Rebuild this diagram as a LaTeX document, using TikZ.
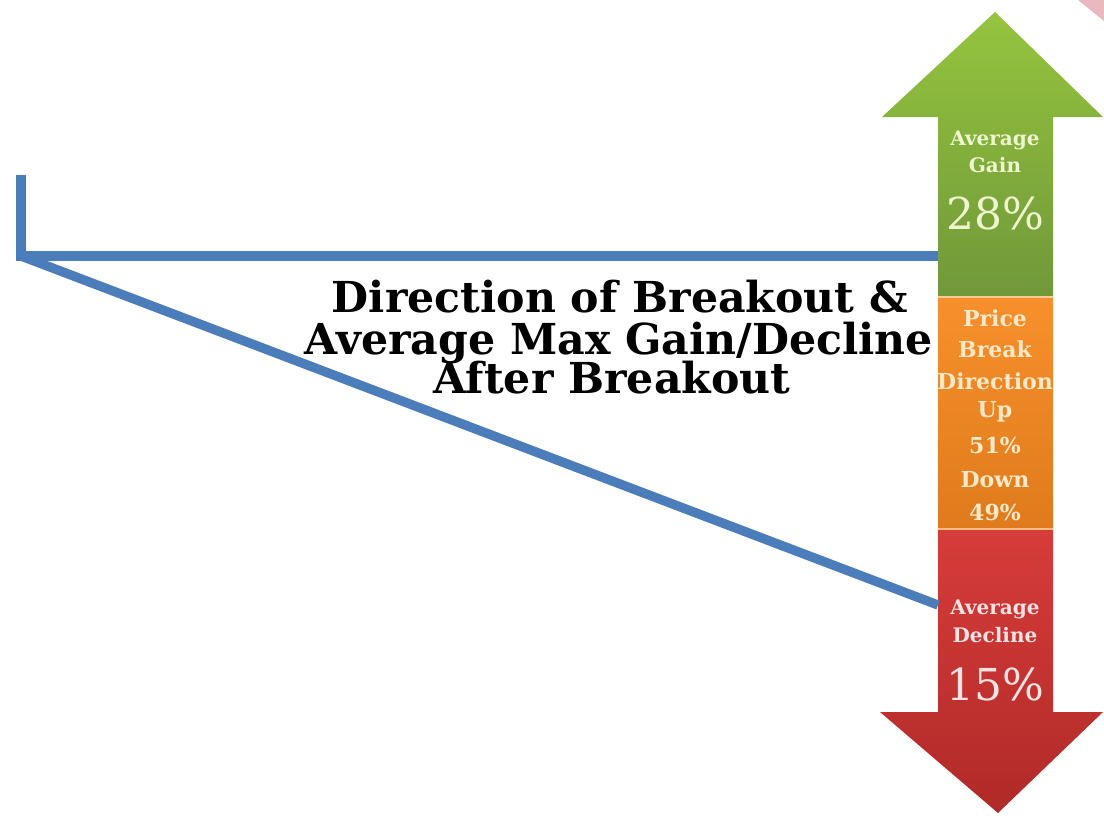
\documentclass[tikz,border=0pt]{standalone}
\usepackage{fontspec}
\setmainfont{DejaVu Serif}
\begin{document}
\begin{tikzpicture}[x=0.75pt,y=-0.75pt,
  blueline/.style={line width=7pt,draw=lineblue,line join=miter},
  lblg/.style={text=txtgreen,font=\bfseries\fontsize{15}{15}\selectfont,inner sep=0pt},
  lblo/.style={text=txtorange,font=\bfseries\fontsize{16.5}{16.5}\selectfont,inner sep=0pt},
  lblr/.style={text=txtred,font=\bfseries\fontsize{15}{15}\selectfont,inner sep=0pt},
  bigg/.style={text=txtgreen,font=\fontsize{33}{33}\selectfont,inner sep=0pt},
  bigr/.style={text=txtred,font=\fontsize{33}{33}\selectfont,inner sep=0pt},
  titletext/.style={font=\bfseries\fontsize{32}{32}\selectfont,inner sep=0pt,anchor=base},
]
\definecolor{lineblue}{HTML}{4A7DBA}
\definecolor{gtop}{HTML}{95C43E}
\definecolor{gbot}{HTML}{70983A}
\definecolor{otop}{HTML}{F7902C}
\definecolor{obot}{HTML}{DF7B1C}
\definecolor{rtop}{HTML}{D63C3A}
\definecolor{rbot}{HTML}{B02A28}
\definecolor{txtgreen}{HTML}{EEF6CF}
\definecolor{txtorange}{HTML}{FDE9C8}
\definecolor{txtred}{HTML}{F9E2E2}
\definecolor{wmpink}{HTML}{E39AA4}
\useasboundingbox (0,0) rectangle (1104,815);
\fill[white] (0,0) rectangle (1104,815);
% watermark fragment
\fill[wmpink,opacity=0.7] (1078,0) -- (1104,0) -- (1104,21) -- cycle;
% green up arrow
\shade[top color=gtop,bottom color=gbot] (938,297) -- (938,117) -- (882,117) -- (995,12) -- (1103,117) -- (1053,117) -- (1053,297) -- cycle;
% orange middle
\shade[top color=otop,bottom color=obot] (938,297) rectangle (1053,529);
\draw[orange!40!white,line width=0.8pt] (938,297) -- (1053,297);
\draw[orange!50!white,line width=0.8pt] (938,529) -- (1053,529);
% red down arrow
\shade[top color=rtop,bottom color=rbot] (938,530) -- (1053,530) -- (1053,712) -- (1103,712) -- (998,813) -- (880,712) -- (938,712) -- cycle;
% coordinates
\coordinate (top) at (21,175);
\coordinate (corner) at (21,256);
\coordinate (gainend) at (938,256);
\coordinate (declend) at (938,605);
\draw[blueline] (top) -- (corner) -- (gainend);
\draw[blueline] (corner) -- (declend);
% labels
\node[lblg] (g1) at (995,140) {Average};
\node[lblg] (g2) at (995,165) {Gain};
\node[bigg] (g3) at (995,213) {28\%};
\node[lblo] (o1) at (995,318) {Price};
\node[lblo] (o2) at (995,349) {Break};
\node[lblo] (o3) at (995,381) {Direction};
\node[lblo] (o4) at (995,412) {Up};
\node[lblo] (o5) at (995,445) {51\%};
\node[lblo] (o6) at (995,480) {Down};
\node[lblo] (o7) at (995,512) {49\%};
\node[lblr] (r1) at (995,609) {Average};
\node[lblr] (r2) at (995,635) {Decline};
\node[bigr] (r3) at (995,684) {15\%};
\node[titletext] (t1) at (620,312) {Direction of Breakout \&};
\node[titletext] (t2) at (619,354) {Average Max Gain/Decline};
\node[titletext] (t3) at (612,393) {After Breakout};
\end{tikzpicture}
\end{document}
